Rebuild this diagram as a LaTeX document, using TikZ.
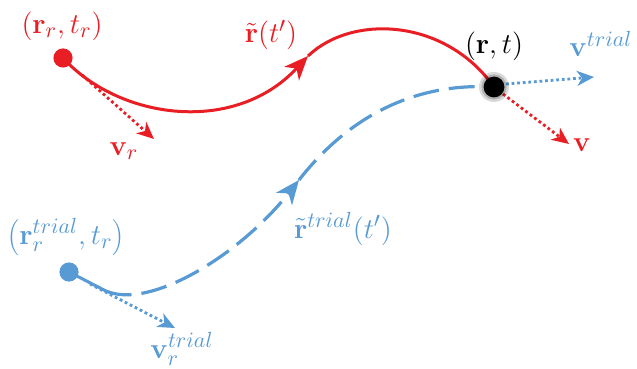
\documentclass[tikz,border=0pt]{standalone}
\usetikzlibrary{arrows.meta}
\DeclareMathSizes{13.5}{13.5}{11}{8}
\definecolor{myred}{RGB}{232,30,36}
\definecolor{myblue}{RGB}{88,154,212}
\begin{document}
\begin{tikzpicture}[x=0.5pt,y=-0.5pt,
  lbl/.style={inner sep=0pt,font=\fontsize{13.5}{16}\selectfont},
  tip/.style={-{Stealth[length=12pt,width=10pt,inset=3.5pt]}},
  smalltip/.style={-{Stealth[length=8.5pt,width=7.5pt,inset=2.5pt]}},
  dotline/.style={line width=1.4pt,dash pattern=on 1.4pt off 1.4pt},
  curve/.style={line width=1.5pt},
  dashcurve/.style={line width=1.6pt,dash pattern=on 13pt off 5pt}]
\useasboundingbox (0,0) rectangle (637,369);

% points
\coordinate (rdot) at (63,58);
\coordinate (bdot) at (494,87);
\coordinate (udot) at (69,272);
\coordinate (rmid) at (308,56);
\coordinate (umid) at (299,180);
\coordinate (ustart) at (106,291);

% red trajectory
\draw[myred,curve,tip] (rdot) .. controls (120,120) and (235,135) .. (rmid);
\draw[myred,curve] (rmid) .. controls (352,14) and (445,18) .. (bdot);

% blue trajectory
\draw[myblue,curve] (udot) -- (ustart);
\draw[myblue,dashcurve,tip] (ustart) .. controls (150,310) and (240,255) .. (umid);
\draw[myblue,dashcurve] (umid) .. controls (345,121) and (410,82) .. (bdot);

% velocity vectors
\coordinate (vrs) at (82,75);
\coordinate (vre) at (154,139);
\draw[myred,dotline,smalltip] (vrs) -- (vre);
\coordinate (vs) at (503,94);
\coordinate (ve) at (569,144);
\draw[myred,dotline,smalltip] (vs) -- (ve);
\coordinate (vts) at (506,84);
\coordinate (vte) at (594,77);
\draw[myblue,dotline,smalltip] (vts) -- (vte);
\coordinate (vrts) at (90,284);
\coordinate (vrte) at (175,328);
\draw[myblue,dotline,smalltip] (vrts) -- (vrte);

% dots
\fill[myred] (rdot) circle (4.8pt);
\fill[black,opacity=0.15] (bdot) circle (7.5pt);
\fill[black,opacity=0.2] (bdot) circle (6.3pt);
\fill[black] (bdot) circle (5.2pt);
\fill[myblue] (udot) circle (4.8pt);

% labels
\node[lbl,text=myred] (l1) at (62,26) {$(\mathbf{r}_r,t_r)$};
\node[lbl,text=myred] (l2) at (271,35) {$\tilde{\mathbf{r}}(t')$};
\node[lbl,text=myred] (l3) at (124,151) {$\mathbf{v}_r$};
\node[lbl,text=black] (l4) at (494,46) {$(\mathbf{r},t)$};
\node[lbl,text=myblue,anchor=west] (l5) at (569,44) {$\mathbf{v}^{trial}$};
\node[lbl,text=myred] (l6) at (582,145) {$\mathbf{v}$};
\node[lbl,text=myblue] (l7) at (66,237) {$\left(\mathbf{r}_r^{trial},t_r\right)$};
\node[lbl,text=myblue] (l8) at (343,229) {$\tilde{\mathbf{r}}^{trial}(t')$};
\node[lbl,text=myblue] (l9) at (182,349) {$\mathbf{v}_r^{trial}$};
\end{tikzpicture}
\end{document}
